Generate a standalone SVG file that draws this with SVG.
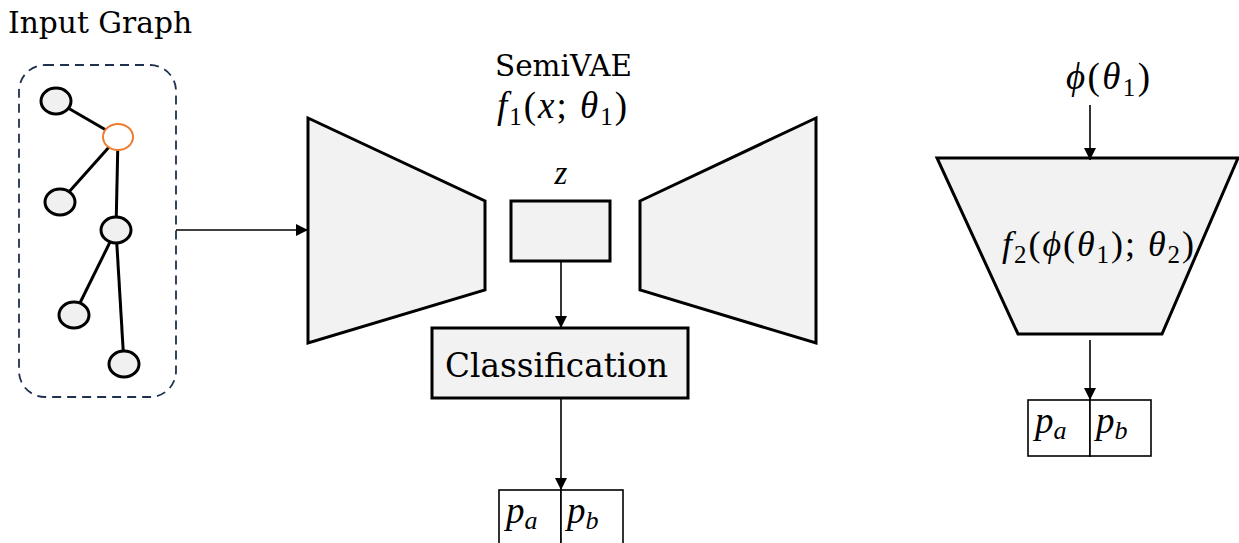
<svg xmlns="http://www.w3.org/2000/svg" width="1239" height="543" viewBox="0 0 1239 543">
<style>
.t{font-family:"DejaVu Serif","Liberation Serif",serif;fill:#000}
.m{font-family:"Liberation Serif","DejaVu Serif",serif;font-style:italic;fill:#000}
.up{font-style:normal}
.shape{fill:#f2f2f2;stroke:#000;stroke-width:3}
.pbox{fill:#fff;stroke:#000;stroke-width:1.6}
.conn{stroke:#000;stroke-width:1.6;fill:none}
.edge{stroke:#000;stroke-width:3}
.node{fill:#f0f0f0;stroke:#000;stroke-width:3}
</style>
<defs>
<marker id="a" viewBox="0 0 12 12" refX="12" refY="6" markerWidth="12" markerHeight="12" orient="auto" markerUnits="userSpaceOnUse">
<path d="M0,0 L12,6 L0,12 z" fill="#000"/>
</marker>
</defs>

<g id="input-graph">
<text class="t" x="8" y="33" font-size="29" textLength="184" lengthAdjust="spacingAndGlyphs">Input Graph</text>
<rect x="19" y="65" width="157" height="332" rx="26" ry="26" fill="none" stroke="#1f3050" stroke-width="1.8" stroke-dasharray="9,6"/>
<line class="edge" x1="56" y1="101" x2="118" y2="137"/>
<line class="edge" x1="118" y1="137" x2="60" y2="202"/>
<line class="edge" x1="118" y1="137" x2="116" y2="230"/>
<line class="edge" x1="116" y1="230" x2="74" y2="315"/>
<line class="edge" x1="116" y1="230" x2="124" y2="364"/>
<ellipse class="node" cx="56" cy="101" rx="15" ry="13"/>
<ellipse cx="118" cy="137" rx="15" ry="13" fill="#fff" stroke="#ed7d31" stroke-width="2"/>
<ellipse class="node" cx="60" cy="202" rx="15" ry="13"/>
<ellipse class="node" cx="116" cy="230" rx="15" ry="13"/>
<ellipse class="node" cx="74" cy="315" rx="15" ry="13"/>
<ellipse class="node" cx="124" cy="364" rx="15" ry="13"/>
</g>

<g id="semivae-label">
<text class="t" x="495" y="76" font-size="29" textLength="137" lengthAdjust="spacingAndGlyphs">SemiVAE</text>
<text class="m" x="497" y="118" font-size="37" textLength="130" lengthAdjust="spacing">f<tspan class="up" font-size="25" dy="7">1</tspan><tspan class="up" dy="-7">(</tspan>x<tspan class="up">;</tspan> θ<tspan class="up" font-size="25" dy="7">1</tspan><tspan class="up" dy="-7">)</tspan></text>
</g>

<g id="encoder">
<polygon class="shape" points="308,118 485,201 485,290 308,343"/>
</g>

<g id="latent-z">
<text class="m" x="561" y="184" font-size="33" text-anchor="middle">z</text>
<rect class="shape" x="511" y="201" width="99" height="60"/>
</g>

<g id="decoder">
<polygon class="shape" points="640,201 816,118 816,343 640,290"/>
</g>

<g id="classification">
<rect class="shape" x="432" y="328" width="256" height="70"/>
<text class="t" x="445" y="377" font-size="34" textLength="223" lengthAdjust="spacingAndGlyphs">Classification</text>
</g>

<g id="output-left">
<rect class="pbox" x="499" y="490" width="62" height="56"/>
<rect class="pbox" x="561" y="490" width="62" height="56"/>
<text class="m" x="506" y="523" font-size="37">p<tspan font-size="26" dy="6">a</tspan></text>
<text class="m" x="567" y="523" font-size="37">p<tspan font-size="26" dy="6">b</tspan></text>
</g>

<g id="phi-label">
<text class="m" x="1066" y="89" font-size="37" textLength="84" lengthAdjust="spacing">ϕ<tspan class="up">(</tspan>θ<tspan class="up" font-size="25" dy="7">1</tspan><tspan class="up" dy="-7">)</tspan></text>
</g>

<g id="f2">
<polygon class="shape" points="937,158 1238,158 1162,334 1018,334"/>
<text class="m" x="1002" y="256" font-size="36" textLength="192" lengthAdjust="spacing">f<tspan class="up" font-size="25" dy="7">2</tspan><tspan class="up" dy="-7">(</tspan>ϕ<tspan class="up">(</tspan>θ<tspan class="up" font-size="25" dy="7">1</tspan><tspan class="up" dy="-7">);</tspan> θ<tspan class="up" font-size="25" dy="7">2</tspan><tspan class="up" dy="-7">)</tspan></text>
</g>

<g id="output-right">
<rect class="pbox" x="1028" y="400" width="62" height="56"/>
<rect class="pbox" x="1090" y="400" width="61" height="56"/>
<text class="m" x="1035" y="433" font-size="37">p<tspan font-size="26" dy="6">a</tspan></text>
<text class="m" x="1096" y="433" font-size="37">p<tspan font-size="26" dy="6">b</tspan></text>
</g>

<g id="connectors">
<line class="conn" x1="176" y1="230" x2="308" y2="230" marker-end="url(#a)"/>
<line class="conn" x1="561" y1="261" x2="561" y2="328" marker-end="url(#a)"/>
<line class="conn" x1="561" y1="398" x2="561" y2="490" marker-end="url(#a)"/>
<line class="conn" x1="1090" y1="105" x2="1090" y2="160" marker-end="url(#a)"/>
<line class="conn" x1="1090" y1="340" x2="1090" y2="400" marker-end="url(#a)"/>
</g>
</svg>
